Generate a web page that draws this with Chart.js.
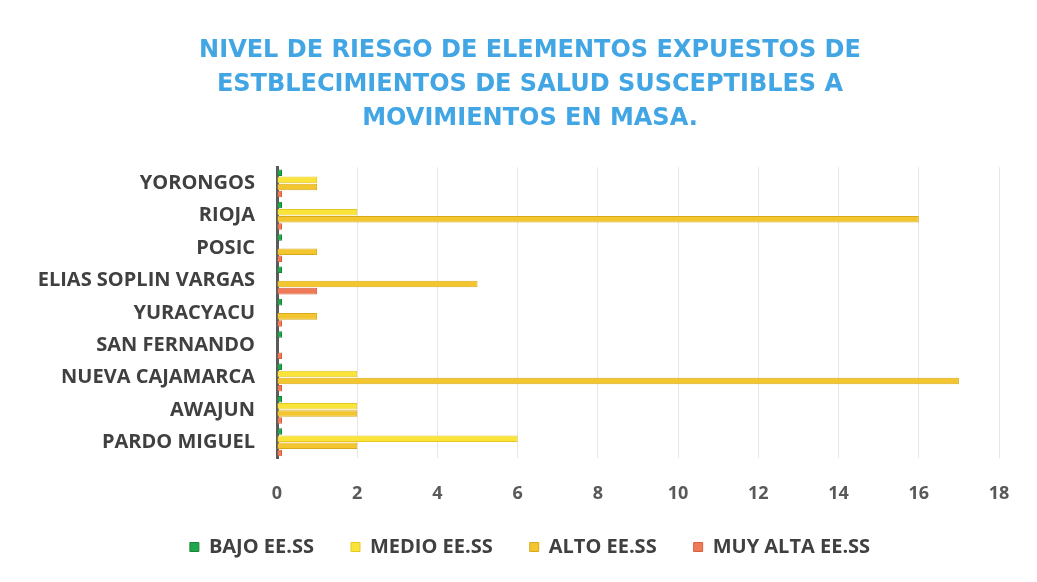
<!DOCTYPE html>
<html>
<head>
<meta charset="utf-8">
<script src="https://cdn.jsdelivr.net/npm/chart.js@4"></script>
<style>
  html, body { margin: 0; padding: 0; background: #fff; }
  #wrap { width: 1037px; height: 582px; }
</style>
</head>
<body>
<div id="wrap"><canvas id="riesgoChart" width="1037" height="582"></canvas></div>
<script>
  // distritos, de arriba hacia abajo
  const distritos = ['YORONGOS', 'RIOJA', 'POSIC', 'ELIAS SOPLIN VARGAS', 'YURACYACU',
    'SAN FERNANDO', 'NUEVA CAJAMARCA', 'AWAJUN', 'PARDO MIGUEL'];

  // establecimientos de salud por nivel de riesgo
  const bajo     = [0, 0, 0, 0, 0, 0, 0, 0, 0];
  const medio    = [1, 2, 0, 0, 0, 0, 2, 2, 6];
  const alto     = [1, 16, 1, 5, 1, 0, 17, 2, 2];
  const muyAlta  = [0, 0, 0, 1, 0, 0, 0, 0, 0];

  const xTicks = [0, 2, 4, 6, 8, 10, 12, 14, 16, 18];

  const titulo = [
    'NIVEL DE RIESGO DE ELEMENTOS EXPUESTOS DE',
    'ESTBLECIMIENTOS DE SALUD SUSCEPTIBLES A',
    'MOVIMIENTOS EN MASA.'
  ];

  const ctx = document.getElementById('riesgoChart').getContext('2d');

  function serie(label, data, color, borde, minLen) {
    return {
      label: label,
      data: data,
      backgroundColor: color,
      borderColor: borde,
      borderWidth: 1,
      minBarLength: minLen,
      barPercentage: 0.92,
      categoryPercentage: 0.88
    };
  }

  // leyenda más baja: se le quita alto a la caja y se dibuja más arriba
  const RECORTE = 30;
  const ajusteLeyenda = {
    id: 'ajusteLeyenda',
    afterInit(chart) {
      const leg = chart.legend;
      const fit = leg.fit;
      leg.fit = function () {
        fit.call(this);
        this.height -= RECORTE;
      };
      leg.draw = function () {
        const c = this.ctx;
        c.save();
        c.translate(0, -RECORTE);
        this._draw();
        c.restore();
      };
    }
  };

  new Chart(ctx, {
    type: 'bar',
    data: {
      labels: distritos,
      datasets: [
        serie('BAJO EE.SS', bajo, '#1fa64a', '#17843a', 5),
        serie('MEDIO EE.SS', medio, '#fbe43a', '#e6c820', 0),
        serie('ALTO EE.SS', alto, '#f3c62f', '#d9a91c', 0),
        serie('MUY ALTA EE.SS', muyAlta, '#ef7a57', '#d9603f', 5)
      ]
    },
    plugins: [ajusteLeyenda],
    options: {
      indexAxis: 'y',
      responsive: false,
      animation: false,
      layout: { padding: { left: 30, right: 7, top: 0, bottom: 15 } },
      scales: {
        x: {
          min: 0,
          max: 18,
          afterBuildTicks: scale => { scale.ticks = xTicks.map(v => ({ value: v })); },
          grid: { color: '#e6e6e6', lineWidth: 1, drawTicks: false },
          border: { display: false },
          ticks: {
            color: '#595959',
            padding: 25,
            font: { family: 'Open Sans', size: 18, weight: 'bold' }
          }
        },
        y: {
          afterFit: scale => { scale.width = 247; },
          grid: { display: false, drawTicks: false },
          border: { color: '#5a5a5a', width: 3 },
          ticks: {
            color: '#404040',
            padding: 22,
            font: { family: 'Open Sans', size: 20, weight: 'bold' }
          }
        },
        // eje vacío a la derecha para dejar margen al área de barras
        margen: {
          type: 'category',
          position: 'right',
          grid: { display: false, drawTicks: false },
          border: { display: false },
          ticks: { display: false },
          afterFit: scale => { scale.width = 31; }
        }
      },
      plugins: {
        title: {
          display: true,
          text: titulo,
          color: '#42a6e4',
          font: { family: 'DejaVu Sans', size: 24, weight: 'bold', lineHeight: 1.42 },
          padding: { top: 34, bottom: 31 }
        },
        legend: {
          position: 'bottom',
          labels: {
            color: '#404040',
            boxWidth: 9,
            boxHeight: 9,
            padding: 37,
            font: { family: 'Open Sans', size: 20, weight: 'bold' }
          }
        },
        tooltip: { enabled: false }
      }
    }
  });
</script>
</body>
</html>
